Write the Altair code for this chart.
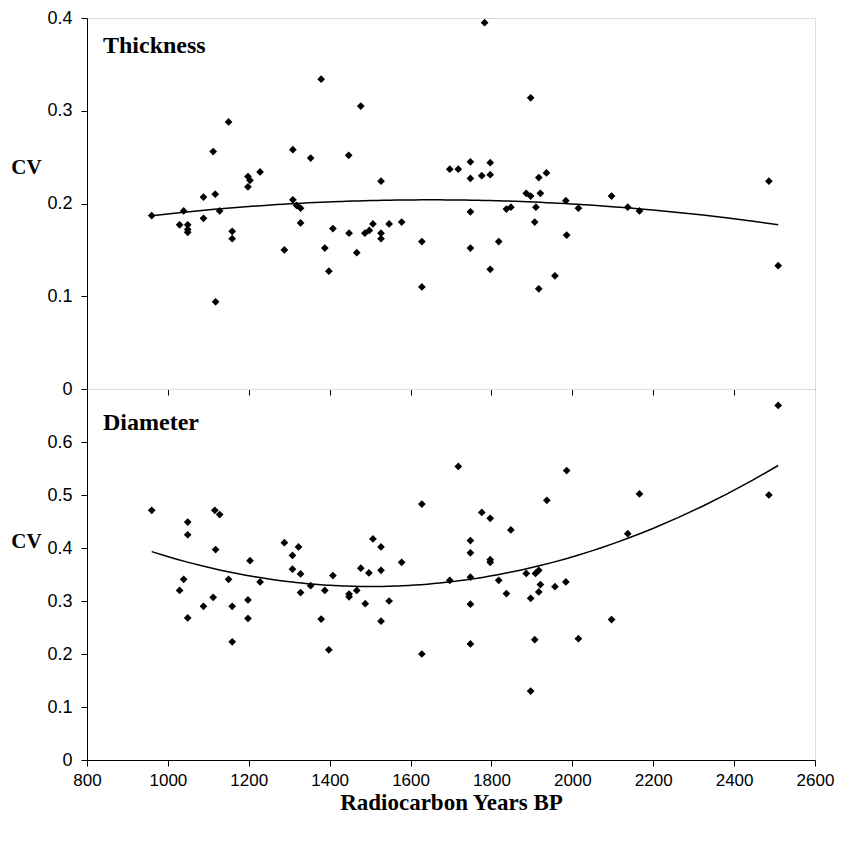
import altair as alt
import pandas as pd

# ---- data ----
thick_years = [960, 1029, 1039, 1049, 1049, 1049, 1088, 1088, 1112, 1117, 1118, 1128,
               1150, 1159, 1159, 1198, 1203, 1198, 1228, 1288, 1309, 1309, 1318, 1328,
               1328, 1353, 1379, 1388, 1398, 1408, 1447, 1448, 1467, 1477, 1487, 1498,
               1507, 1527, 1527, 1527, 1547, 1578, 1628, 1628, 1697, 1718, 1748, 1748,
               1748, 1748, 1776, 1783, 1797, 1797, 1797, 1818, 1837, 1848, 1886, 1897,
               1897, 1907, 1910, 1917, 1917, 1921, 1936, 1957, 1984, 1986, 2015, 2097,
               2137, 2166, 2486, 2509]
thick_cv = [0.187, 0.177, 0.192, 0.177, 0.172, 0.169, 0.207, 0.184, 0.256, 0.210, 0.094, 0.192,
            0.288, 0.170, 0.162, 0.229, 0.225, 0.218, 0.234, 0.150, 0.258, 0.204, 0.198, 0.195,
            0.179, 0.249, 0.334, 0.152, 0.127, 0.173, 0.252, 0.168, 0.147, 0.305, 0.168, 0.171,
            0.178, 0.224, 0.168, 0.162, 0.178, 0.180, 0.159, 0.110, 0.237, 0.237, 0.245, 0.227,
            0.191, 0.152, 0.230, 0.395, 0.244, 0.231, 0.129, 0.159, 0.194, 0.196, 0.211, 0.314,
            0.208, 0.180, 0.196, 0.228, 0.108, 0.211, 0.233, 0.122, 0.203, 0.166, 0.195, 0.208,
            0.196, 0.192, 0.224, 0.133]

diam_years = [960, 1029, 1039, 1049, 1049, 1049, 1088, 1112, 1116, 1128, 1118, 1150,
              1159, 1159, 1198, 1198, 1203, 1228, 1288, 1308, 1323, 1308, 1328, 1328,
              1353, 1379, 1388, 1398, 1408, 1448, 1448, 1467, 1477, 1488, 1497, 1507,
              1527, 1527, 1527, 1547, 1578, 1628, 1628, 1697, 1718, 1748, 1748, 1748,
              1748, 1748, 1776, 1797, 1797, 1797, 1818, 1837, 1848, 1886, 1897, 1897,
              1907, 1909, 1917, 1917, 1921, 1937, 1957, 1984, 1986, 2015, 2097, 2137,
              2166, 2486, 2509]
diam_cv = [0.471, 0.320, 0.341, 0.449, 0.425, 0.268, 0.290, 0.307, 0.471, 0.463, 0.397, 0.341,
           0.290, 0.223, 0.302, 0.267, 0.376, 0.336, 0.410, 0.386, 0.402, 0.360, 0.351, 0.316,
           0.329, 0.266, 0.320, 0.208, 0.348, 0.313, 0.308, 0.320, 0.362, 0.295, 0.353, 0.417,
           0.402, 0.358, 0.262, 0.300, 0.373, 0.483, 0.200, 0.339, 0.554, 0.414, 0.391, 0.345,
           0.294, 0.219, 0.467, 0.456, 0.378, 0.373, 0.339, 0.314, 0.434, 0.352, 0.305, 0.130,
           0.227, 0.352, 0.358, 0.317, 0.331, 0.490, 0.327, 0.336, 0.546, 0.229, 0.265, 0.427,
           0.502, 0.500, 0.669]

x_ticks = [800, 1000, 1200, 1400, 1600, 1800, 2000, 2200, 2400, 2600]
top_ticks = [0, 0.1, 0.2, 0.3, 0.4]
bottom_ticks = [0, 0.1, 0.2, 0.3, 0.4, 0.5, 0.6]

W, H = 728, 371
SERIF = "Liberation Serif"
SANS = "Liberation Sans"
y_label_expr = "datum.value == 0 ? '0' : format(datum.value, '.1f')"


def panel(years, cv, name, ymax, yticks, bottom, name_y, cv_y):
    df = pd.DataFrame({"year": years, "cv": cv})
    xaxis = alt.Axis(
        values=x_ticks, labels=bottom, ticks=True, tickSize=6, grid=False,
        format="d", labelFlush=False, labelPadding=6, domainColor="black",
        tickColor="black", labelFont=SANS, labelFontSize=17, labelColor="black",
        title="Radiocarbon Years BP" if bottom else None,
        titleFont=SERIF, titleFontWeight="bold", titleFontSize=23,
        titleColor="black", titlePadding=3,
    )
    yaxis = alt.Axis(
        values=yticks, labelExpr=y_label_expr, tickSize=6, grid=False,
        labelFlush=False, labelPadding=9, domainColor="black", tickColor="black",
        labelFont=SANS, labelFontSize=18, labelColor="black",
        title="CV", titleAngle=0, titleX=-61, titleY=cv_y, titleAlign="center",
        titleBaseline="middle", titleFont=SERIF, titleFontWeight="bold",
        titleFontSize=21, titleColor="black",
    )
    x = alt.X("year:Q", scale=alt.Scale(domain=[800, 2600], nice=False, zero=False), axis=xaxis)
    y = alt.Y("cv:Q", scale=alt.Scale(domain=[0, ymax], nice=False), axis=yaxis)

    base = alt.Chart(df)
    trend = base.transform_regression("year", "cv", method="poly", order=2).mark_line(
        color="black", strokeWidth=1.5
    ).encode(x=x, y=y)
    pts = base.mark_point(shape="diamond", filled=True, color="black", size=60, opacity=1).encode(x=x, y=y)
    lbl = alt.Chart(alt.Data(values=[{"t": name}])).mark_text(
        align="left", baseline="alphabetic", font=SERIF, fontWeight="bold",
        fontSize=24, color="black"
    ).encode(text="t:N", x=alt.value(16), y=alt.value(name_y))
    return alt.layer(trend, pts, lbl).properties(width=W, height=H)


top = panel(thick_years, thick_cv, "Thickness", 0.4, top_ticks, False, 35, 149)
bot = panel(diam_years, diam_cv, "Diameter", 0.7, bottom_ticks, True, 41, 152)

chart = alt.vconcat(top, bot, spacing=0, bounds="flush").properties(
    padding={"left": 2, "top": 0, "right": 0, "bottom": 0}
).configure_view(stroke="black", strokeWidth=1.2).configure(background="white")

chart.save("out.html", embed_options={"renderer": "svg", "actions": False})
